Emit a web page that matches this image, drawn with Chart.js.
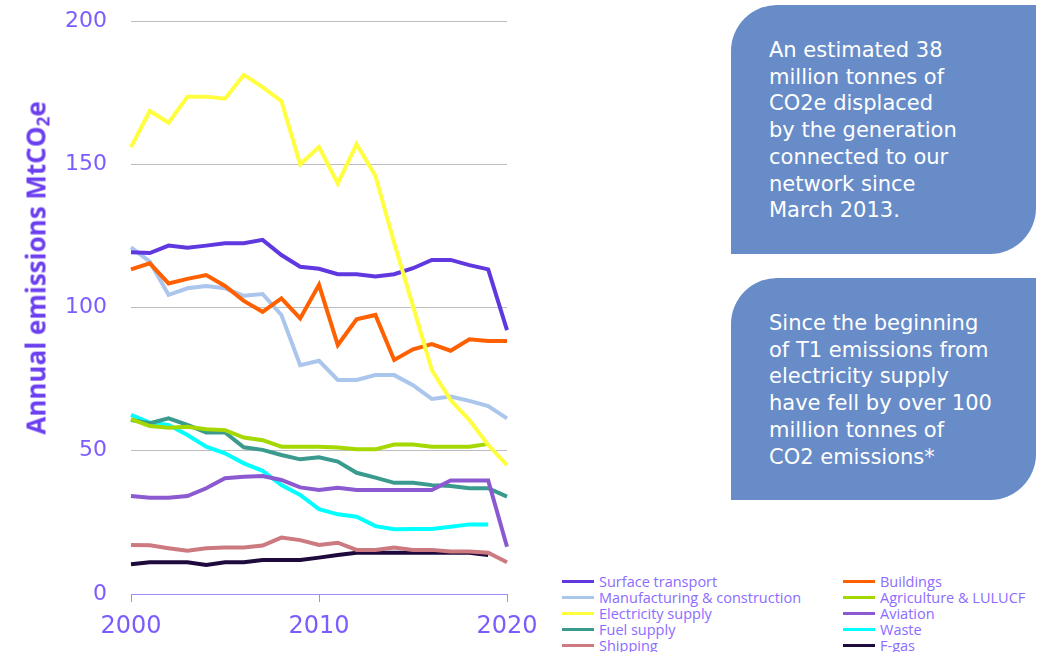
<!DOCTYPE html>
<html>
<head>
<meta charset="utf-8">
<script src="https://cdn.jsdelivr.net/npm/chart.js"></script>
<style>
  body { margin: 0; background: #fff; width: 1049px; height: 652px; overflow: hidden; position: relative; font-family: "Open Sans", sans-serif; }
  #chart { position: absolute; left: 0; top: 0; }
  #ytitle { position: absolute; left: 36px; top: 268px; transform: translate(-50%, -50%) rotate(-90deg);
    white-space: nowrap; font: bold 26px "Open Sans", sans-serif; color: #6b3ff0; }
  #ytitle sub { font-size: 17px; vertical-align: -4px; }
  #legend { position: absolute; left: 562px; top: 573px; display: grid; grid-template-columns: 281px 200px; row-gap: 0; }
  .item { display: flex; align-items: center; height: 16px; font-size: 14.5px; color: #8b6cff; white-space: nowrap; }
  .swatch { width: 32px; height: 3px; margin-right: 5px; }
  .box { position: absolute; left: 731px; width: 305px; background: #678cc8; color: #fff;
    border-radius: 46px 0 46px 0; font: 21px "DejaVu Sans", sans-serif; line-height: 26.7px; box-sizing: border-box; padding-left: 38px; }
  #box1 { top: 5px; height: 249px; padding-top: 32px; }
  #box2 { top: 278px; height: 222px; padding-top: 32px; }
</style>
</head>
<body>
<canvas id="chart" width="540" height="652"></canvas>
<div id="ytitle">Annual emissions MtCO<sub>2</sub>e</div>
<div id="legend"></div>
<div class="box" id="box1">An estimated 38<br>million tonnes of<br>CO2e displaced<br>by the generation<br>connected to our<br>network since<br>March 2013.</div>
<div class="box" id="box2">Since the beginning<br>of T1 emissions from<br>electricity supply<br>have fell by over 100<br>million tonnes of<br>CO2 emissions*</div>
<script>
const years = [2000, 2001, 2002, 2003, 2004, 2005, 2006, 2007, 2008, 2009, 2010,
               2011, 2012, 2013, 2014, 2015, 2016, 2017, 2018, 2019, 2020];

const surfaceTransport = [119.3, 119, 121.6, 120.9, 121.6, 122.4, 122.4, 123.6, 118.3, 114.2, 113.5, 111.6, 111.6, 110.8, 111.6, 113.7, 116.6, 116.6, 114.8, 113.3, 92.1];
const buildings = [113.3, 115.4, 108.4, 110, 111.3, 107.5, 102.3, 98.5, 103.2, 96.2, 107.9, 86.9, 95.9, 97.4, 81.7, 85.4, 87.2, 84.9, 88.9, 88.3, 88.3];
const manufacturing = [121, 116, 104.4, 106.7, 107.5, 106.7, 104.1, 104.7, 97.4, 79.9, 81.4, 74.7, 74.7, 76.4, 76.4, 72.9, 68.1, 68.9, 67.4, 65.6, 61.3];
const agriculture = [61, 58.6, 58, 58.4, 57.5, 57.2, 54.6, 53.7, 51.4, 51.4, 51.4, 51.1, 50.5, 50.5, 52.2, 52.2, 51.4, 51.4, 51.4, 52.4, null];
const electricity = [156, 168.6, 164.5, 173.6, 173.6, 172.9, 181.2, 176.9, 172, 150, 156, 143.3, 157, 146, 122.5, 100.5, 78.2, 67.7, 60.7, 52, 45];
const aviation = [34.2, 33.6, 33.6, 34.2, 36.9, 40.4, 40.9, 41.2, 39.8, 37.2, 36.3, 37.1, 36.3, 36.3, 36.3, 36.3, 36.3, 39.6, 39.6, 39.6, 16.5];
const fuelSupply = [60.7, 59.6, 61.3, 59, 56.4, 56.4, 51.2, 50.3, 48.5, 47, 47.7, 46.2, 42.3, 40.6, 38.8, 38.8, 38, 37.7, 36.9, 36.9, 34];
const waste = [62.5, 59.8, 59, 55.5, 51.4, 49.1, 45.6, 43, 38, 34.6, 29.6, 27.8, 27, 23.7, 22.6, 22.7, 22.7, 23.5, 24.3, 24.3, null];
const shipping = [17.1, 17, 16, 15.1, 16, 16.2, 16.2, 16.9, 19.7, 18.8, 17.1, 17.9, 15.4, 15.4, 16.2, 15.4, 15.4, 14.8, 14.8, 14.4, 11.1];
const fGas = [10.4, 11.1, 11.1, 11.1, 10.1, 11.1, 11.1, 11.9, 11.9, 11.9, 12.7, 13.6, 14.4, 14.4, 14.4, 14.4, 14.4, 14.4, 14.4, 13.6, null];

const yTicks = [0, 50, 100, 150, 200];
const xTickYears = [2000, 2010, 2020];

const tickColor = '#7d5cff';
const axisColor = '#a08cff';

function line(label, data, color) {
    return { label: label, data: data, borderColor: color, backgroundColor: color,
             borderWidth: 4, pointRadius: 0, tension: 0, fill: false };
}

// legend order is row by row, two columns
const datasets = [
    line('Surface transport', surfaceTransport, '#6038e0'),
    line('Buildings', buildings, '#ff6000'),
    line('Manufacturing & construction', manufacturing, '#abc6ec'),
    line('Agriculture & LULUCF', agriculture, '#a4d800'),
    line('Electricity supply', electricity, '#ffff40'),
    line('Aviation', aviation, '#8c5ad0'),
    line('Fuel supply', fuelSupply, '#3a9a8e'),
    line('Waste', waste, '#00ffff'),
    line('Shipping', shipping, '#cc7a80'),
    line('F-gas', fGas, '#1e0a3c')
];
datasets[4].order = -1; // electricity on top

const chart = new Chart(document.getElementById('chart'), {
    type: 'line',
    data: { labels: years, datasets: datasets },
    options: {
        responsive: false,
        animation: false,
        devicePixelRatio: 1,
        layout: { padding: { top: 21, right: 33, left: 0, bottom: 0 } },
        plugins: { legend: { display: false }, tooltip: { enabled: false } },
        scales: {
            x: {
                type: 'category',
                offset: false,
                afterFit: s => { s.height = 58; s.paddingLeft = 0; s.paddingRight = 0; },
                border: { display: true, color: axisColor, width: 1 },
                grid: {
                    drawOnChartArea: false, drawTicks: true, tickLength: 8,
                    color: c => xTickYears.includes(years[c.index]) ? axisColor : 'transparent'
                },
                ticks: {
                    autoSkip: false, maxRotation: 0, padding: 10,
                    color: tickColor, font: { family: 'DejaVu Sans', size: 24 },
                    callback: (v, i) => xTickYears.includes(years[i]) ? String(years[i]) : ''
                }
            },
            y: {
                min: 0, max: 200,
                afterFit: s => { s.width = 131; s.paddingTop = 0; s.paddingBottom = 0; },
                afterBuildTicks: s => { s.ticks = yTicks.map(v => ({ value: v })); },
                border: { display: false },
                grid: {
                    drawTicks: true, tickLength: 24, tickColor: 'transparent',
                    color: c => c.tick && c.tick.value === 0 ? 'transparent' : '#bdbdbd', lineWidth: 1
                },
                ticks: { padding: 0, color: tickColor, font: { family: 'DejaVu Sans', size: 22 } }
            }
        }
    }
});

const legend = document.getElementById('legend');
chart.data.datasets.forEach(ds => {
    const item = document.createElement('div');
    item.className = 'item';
    item.innerHTML = '<span class="swatch" style="background:' + ds.borderColor + '"></span>' + ds.label.replace('&', '&amp;');
    legend.appendChild(item);
});
</script>
</body>
</html>
